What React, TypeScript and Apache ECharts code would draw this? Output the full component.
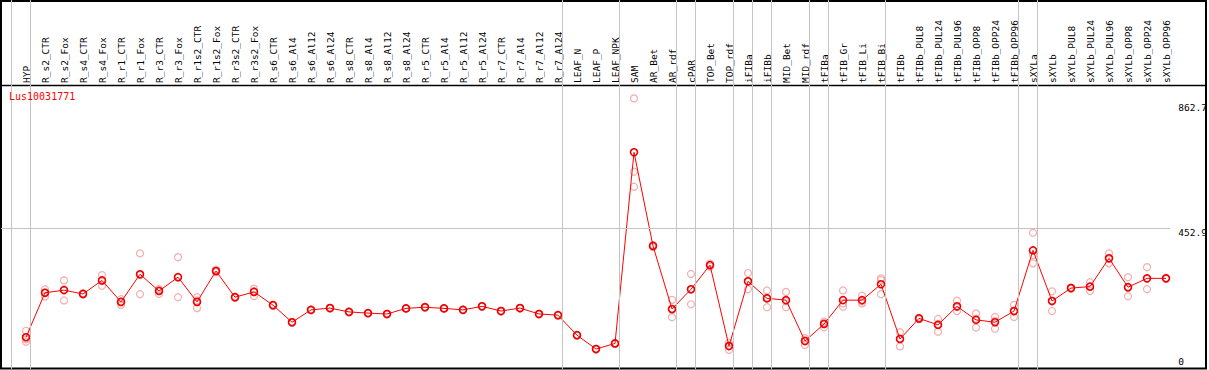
import React, { useEffect, useRef } from "react";
import * as echarts from "echarts";

const geneName = "Lus10031771";

const categories = [
  "HYP", "R_s2_CTR", "R_s2_Fox", "R_s4_CTR", "R_s4_Fox", "R_r1_CTR", "R_r1_Fox", "R_r3_CTR", "R_r3_Fox",
  "R_r1s2_CTR", "R_r1s2_Fox", "R_r3s2_CTR", "R_r3s2_Fox", "R_s6_CTR", "R_s6_Al4", "R_s6_Al12", "R_s6_Al24",
  "R_s8_CTR", "R_s8_Al4", "R_s8_Al12", "R_s8_Al24", "R_r5_CTR", "R_r5_Al4", "R_r5_Al12", "R_r5_Al24",
  "R_r7_CTR", "R_r7_Al4", "R_r7_Al12", "R_r7_Al24", "LEAF_N", "LEAF_P", "LEAF_NPK", "SAM", "AR_Bet", "AR_rdf",
  "cPAR", "TOP_Bet", "TOP_rdf", "iFIBa", "iFIBb", "MID_Bet", "MID_rdf", "tFIBa", "tFIB_Gr", "tFIB_Li", "tFIB_Bi",
  "tFIBb", "tFIBb_PUL8", "tFIBb_PUL24", "tFIBb_PUL96", "tFIBb_OPP8", "tFIBb_OPP24", "tFIBb_OPP96",
  "sXYLa", "sXYLb", "sXYLb_PUL8", "sXYLb_PUL24", "sXYLb_PUL96", "sXYLb_OPP8", "sXYLb_OPP24", "sXYLb_OPP96",
];

const meanValues = [
  83, 234, 243, 230, 276, 203, 297, 240, 287, 203, 308, 219, 237, 192, 134, 176, 182,
  169, 165, 162, 181, 185, 181, 176, 188, 172, 182, 162, 158, 90, 43, 62, 711, 393, 179,
  246, 328, 53, 273, 215, 209, 70, 128, 209, 209, 263, 77, 147, 125, 188, 142, 134, 172,
  378, 206, 250, 255, 351, 253, 283, 283,
];

const replicateValues = [
  [105, 68, 76], [246, 221, 235], [276, 208, 245], [232, 228, 230], [294, 258, 276],
  [212, 193, 204], [368, 229, 294], [247, 230, 243], [355, 219, 287], [219, 182, 208],
  [312, 304, 308], [220, 217, 219], [248, 223, 240], [193, 190, 192], [135, 132, 134],
  [177, 174, 176], [183, 181, 182], [170, 168, 169], [166, 164, 165], [163, 161, 162],
  [182, 180, 181], [186, 184, 185], [182, 180, 181], [177, 175, 176], [189, 187, 188],
  [173, 171, 172], [183, 181, 182], [163, 161, 162], [159, 157, 158], [91, 89, 90],
  [44, 42, 43], [63, 61, 62], [894, 645, 594], [396, 390, 393], [210, 151, 176],
  [298, 195, 245], [333, 323, 328], [64, 40, 55], [301, 246, 272], [242, 185, 218],
  [237, 185, 205], [80, 57, 73], [117, 136, 131], [242, 187, 198], [224, 198, 205],
  [283, 229, 277], [100, 52, 79], [150, 144, 147], [145, 102, 128], [207, 172, 185],
  [164, 116, 146], [152, 112, 138], [193, 152, 171], [438, 334, 362], [239, 172, 207],
  [252, 248, 250], [270, 240, 255], [368, 334, 351], [287, 222, 250], [321, 246, 282],
  [285, 281, 283],
];

// group separators are drawn after these categories (null = before the first one)
const groupBreaksAfter = [
  null, "HYP", "R_r7_Al24", "LEAF_NPK", "AR_rdf", "cPAR", "TOP_rdf", "iFIBa", "iFIBb",
  "MID_rdf", "tFIBa", "tFIB_Bi", "tFIBb_OPP96", "sXYLa", "sXYLb_OPP96",
];

const yTickLabels = [0, 452.9, 862.7];
const refLineValue = 452.9;

const MONO = "'DejaVu Sans Mono', monospace";

export default function App() {
  const ref = useRef<HTMLDivElement>(null);

  useEffect(() => {
    if (!ref.current) return;
    const chart = echarts.init(ref.current, null, { renderer: "svg" });

    const meanData = meanValues.map((v, i) => [i, v]);
    const repData: number[][] = [];
    replicateValues.forEach((reps, i) => reps.forEach((v) => repData.push([i, v])));

    const breakOffset = 0.226;
    const vLines = groupBreaksAfter.map((name) => ({
      xAxis: (name === null ? -1 : categories.indexOf(name)) + breakOffset,
    }));

    const option: any = {
      animation: false,
      backgroundColor: "#fff",
      title: {
        text: geneName,
        left: 9,
        top: 91,
        padding: 0,
        textStyle: { color: "#ff0000", fontSize: 10, fontWeight: "normal", fontFamily: MONO },
      },
      grid: [
        { left: 1, right: 38.7, top: 0, bottom: 1, outerBoundsMode: "none", containLabel: false },
        { left: 16.5, right: 33.5, top: 86, bottom: 1, outerBoundsMode: "none", containLabel: false },
      ],
      xAxis: [
        {
          type: "value",
          gridIndex: 0,
          min: -1.316,
          max: 60 + breakOffset,
          axisLine: { show: false },
          axisTick: { show: false },
          axisLabel: { show: false },
          splitLine: { show: false },
        },
        {
          type: "category",
          gridIndex: 1,
          data: categories,
          position: "top",
          boundaryGap: true,
          axisLine: { show: false },
          axisTick: { show: false },
          splitLine: { show: false },
          axisLabel: {
            interval: 0,
            rotate: 90,
            margin: 3,
            fontSize: 9.5,
            fontFamily: MONO,
            color: "#000",
          },
        },
      ],
      yAxis: [
        {
          type: "value",
          gridIndex: 0,
          position: "right",
          min: -24.8,
          max: 1228.2,
          axisLine: { show: false },
          axisTick: { show: false },
          splitLine: { show: false },
          axisLabel: {
            customValues: yTickLabels,
            margin: 8,
            fontSize: 9.5,
            fontFamily: MONO,
            color: "#000",
            formatter: (v: number) => (Math.abs(v - refLineValue) < 0.01 ? "{t|" + v + "}" : String(v)),
            rich: { t: { padding: [8, 0, 0, 0], fontSize: 9.5, fontFamily: MONO, color: "#000" } },
          },
        },
        { type: "value", gridIndex: 1, show: false },
      ],
      series: [
        {
          type: "scatter",
          xAxisIndex: 0,
          yAxisIndex: 0,
          data: repData,
          symbol: "circle",
          symbolSize: 7,
          z: 2,
          itemStyle: { color: "rgba(0,0,0,0)", borderColor: "#f09a9a", borderWidth: 1.2 },
          markLine: {
            silent: true,
            symbol: "none",
            label: { show: false },
            lineStyle: { color: "#c4c4c4", width: 1, type: "solid" },
            data: [...vLines, { yAxis: refLineValue }],
          },
        },
        {
          type: "line",
          xAxisIndex: 0,
          yAxisIndex: 0,
          data: meanData,
          symbol: "circle",
          symbolSize: 7,
          z: 3,
          lineStyle: { color: "#ff0000", width: 1 },
          itemStyle: { color: "rgba(0,0,0,0)", borderColor: "#ee0000", borderWidth: 1.6 },
        },
      ],
      graphic: [
        {
          type: "line",
          shape: { x1: 0, y1: 85.5, x2: 1207, y2: 85.5 },
          style: { stroke: "#000", lineWidth: 1.5 },
          silent: true,
        },
        {
          type: "rect",
          shape: { x: 1, y: 1, width: 1205, height: 367.5 },
          style: { stroke: "#000", fill: "none", lineWidth: 2 },
          silent: true,
        },
      ],
    };

    chart.setOption(option);
    return () => chart.dispose();
  }, []);

  return (
    <div
      ref={ref}
      style={{ position: "absolute", left: 0, top: 0, width: 1209, height: 370, background: "#fff" }}
    />
  );
}
